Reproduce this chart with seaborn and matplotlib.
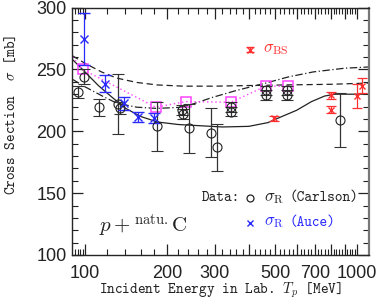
import matplotlib

matplotlib.use("Agg")
import matplotlib.pyplot as plt  # noqa: E402
import matplotlib.ticker as mticker  # noqa: E402
import pandas as pd  # noqa: E402
import seaborn as sns  # noqa: E402

# ---------------------------------------------------------------------------
# Data (energy in MeV, cross section in mb)
# ---------------------------------------------------------------------------
carlson_e = [94.3, 99, 112.6, 132, 134, 184, 228, 230, 241, 290, 306,
             344, 344, 462, 462, 553, 553, 866]
carlson_sig = [231.6, 244, 219.5, 222, 219, 204, 217, 214, 202.4, 199, 187,
               220, 216, 233, 229, 233, 229, 209]
carlson_err = [5, 6, 7, 24, 5, 20, 4, 4, 20, 20, 19, 4, 4, 4, 4, 4, 4, 22]

auce_e = [99, 118.5, 139, 157, 179]
auce_sig = [275, 238.6, 222.6, 211.5, 211]
auce_err = [21, 7, 5, 4, 4]

bs_e = [495, 802, 802, 1000, 1045]
bs_sig = [210.5, 229, 217.5, 228.5, 237]
bs_err = [2, 3, 3, 10, 6]

pink_e = [90, 98, 182, 235, 344, 462, 558]
pink_sig = [260, 250, 219.5, 224, 223.5, 236.5, 236.5]

solid_e = [90, 100, 112, 125, 140, 160, 185, 220, 265, 320, 400, 470,
           530, 600, 680, 760, 830, 1100]
solid_sig = [258, 248, 237, 228, 219, 212, 207.5, 205.5, 204.5, 203.5, 204,
             207, 212, 217, 224, 228.5, 230, 230]

dashed_e = [90, 100, 115, 131, 155, 184, 230, 300, 400, 550, 800, 1100]
dashed_sig = [261, 255, 248, 243, 239.5, 237.5, 236.5, 236.5, 237, 237.5,
              238, 239]

dashdot_e = [90, 100, 117, 131, 155, 184, 230, 295, 360, 462, 560, 690,
             900, 1100]
dashdot_sig = [242, 236, 228, 222.7, 219.5, 218.5, 219.5, 227.5, 233, 239,
               244, 248, 251, 252]

x_major = [100, 200, 300, 400, 500, 600, 700, 800, 900, 1000]
x_labels = ["100", "200", "300", "", "500", "", "700", "", "", "1000"]
y_major = [100, 150, 200, 250, 300]

BLUE = "#2a2aff"
RED = "#ff3030"
PINK = "#ff44ff"
INK = "#222222"

sns.set_theme(style="ticks")
plt.rcParams["mathtext.fontset"] = "cm"
plt.rcParams["font.family"] = ["Liberation Sans", "DejaVu Sans"]
plt.rcParams["axes.linewidth"] = 1.0
TT = "cmtt10"

fig = plt.figure(figsize=(3.82, 3.05), dpi=100)
ax = fig.add_axes([0.1885, 0.164, 0.7775, 0.811])

# model curves
curves = [
    (solid_e, solid_sig, "-"),
    (dashed_e, dashed_sig, (0, (5, 3))),
    (dashdot_e, dashdot_sig, (0, (6, 2, 1, 2))),
]
for xs, ys, ls in curves:
    df = pd.DataFrame({"E": xs, "sig": ys})
    sns.lineplot(data=df, x="E", y="sig", ax=ax, color=INK, lw=0.9,
                 linestyle=ls, sort=False, estimator=None)

pink = pd.DataFrame({"E": pink_e, "sig": pink_sig})
sns.lineplot(data=pink, x="E", y="sig", ax=ax, color=PINK, lw=1.0,
             linestyle=(0, (1, 2)), sort=False, estimator=None)
ax.plot(pink_e[1:], pink_sig[1:], ls="none", marker="s", ms=6.5, mfc="none",
        mec=PINK, mew=1.1)

# data with error bars
ax.errorbar(carlson_e, carlson_sig, yerr=carlson_err, fmt="o", ms=6.5,
            mfc="none", mec=INK, ecolor="#333333", elinewidth=0.9,
            capsize=4, capthick=0.9, mew=0.8)
ax.errorbar(auce_e, auce_sig, yerr=auce_err, fmt="x", ms=6, color=BLUE,
            elinewidth=0.9, capsize=4, capthick=0.9, mew=1.0)
ax.errorbar(bs_e, bs_sig, yerr=bs_err, fmt="none", ecolor=RED,
            elinewidth=0.9, capsize=3.5, capthick=0.9)
ax.plot(bs_e, bs_sig, ls="none", marker="x", ms=4, color=RED, mew=1.0)

# axes
ax.set_xscale("log")
ax.set_xlim(89.6, 1107)
ax.set_ylim(100, 300)
ax.set_xticks(x_major)
ax.set_xticklabels(x_labels)
minor = [92, 94, 96, 98] + [v for v in range(120, 1000, 20) if v % 100]
ax.xaxis.set_minor_locator(mticker.FixedLocator(minor))
ax.xaxis.set_minor_formatter(mticker.NullFormatter())
ax.set_yticks(y_major)
ax.yaxis.set_minor_locator(mticker.MultipleLocator(10))
ax.tick_params(which="both", direction="in", top=True, right=True,
               labelsize=13, colors=INK)
ax.tick_params(axis="x", pad=7)
ax.tick_params(axis="y", pad=4)
ax.tick_params(which="major", length=8, width=0.9)
ax.tick_params(which="minor", length=4, width=0.8)
ax.spines["right"].set_color("#777777")
ax.spines["right"].set_linewidth(1.6)

ax.set_xlabel(r"Incident Energy in Lab. $T_p$ [MeV]", family=TT,
              fontsize=10.5, color=INK)
ax.xaxis.set_label_coords(0.5, -0.105)
ax.set_ylabel(r"Cross Section  $\sigma$ [mb]", family=TT, fontsize=10.5,
              color=INK, va="center")
ax.yaxis.set_label_coords(-0.205, 0.566)

# annotations
ax.text(113, 124, r"$p+^{\rm natu.}{\rm C}$", fontsize=15, color=INK,
        va="center")
ax.plot([404], [266], ls="none", marker="x", ms=4, color=RED, mew=1.0)
ax.errorbar([404], [266], yerr=[2], fmt="none", ecolor=RED, capsize=3,
            elinewidth=0.8)
ax.text(450, 266, r"$\sigma_{\rm BS}$", color=RED, fontsize=12,
        va="center")

ax.text(269, 146, "Data:", family=TT, fontsize=10.5, va="center",
        color=INK)
ax.plot([404], [146], ls="none", marker="o", ms=5, mfc="none",
        mec=INK, mew=0.9)
ax.text(455, 146, r"$\sigma_{\rm R}$", fontsize=12, va="center",
        color=INK)
ax.text(565, 146, "(Carlson)", family=TT, fontsize=10.5, va="center",
        color=INK)
ax.plot([404], [126], ls="none", marker="x", ms=5, color=BLUE, mew=1.0)
ax.text(455, 126, r"$\sigma_{\rm R}$", fontsize=12, va="center",
        color=BLUE)
ax.text(565, 126, "(Auce)", family=TT, fontsize=10.5, va="center",
        color=BLUE)

fig.savefig("out.png", dpi=100)
